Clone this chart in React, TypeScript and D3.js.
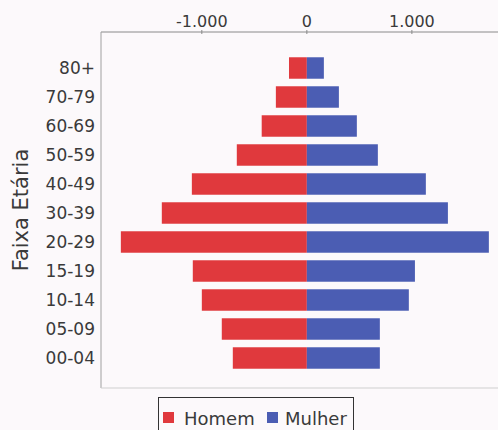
import React from "react";
import * as d3 from "d3";

const categories = ["80+", "70-79", "60-69", "50-59", "40-49", "30-39", "20-29", "15-19", "10-14", "05-09", "00-04"];
const homem = [170, 295, 430, 667, 1095, 1381, 1771, 1086, 1000, 810, 705];
const mulher = [162, 305, 476, 676, 1133, 1343, 1733, 1029, 971, 695, 695];
const xTicks = [-1000, 0, 1000];
const tickLabels = ["-1.000", "0", "1.000"];
const seriesNames = ["Homem", "Mulher"];
const seriesColors = ["#e0393d", "#4b5db3"];

const W = 498;
const H = 430;
const FONT = "'DejaVu Sans', Verdana, sans-serif";

export default function App() {
  const x = d3.scaleLinear().domain([-1960, 1820]).range([101, 498]);
  const y = d3
    .scaleBand<string>()
    .domain(categories)
    .range([53.5, 372.5])
    .paddingInner(0.26)
    .paddingOuter(0.13);
  const plotTop = 32;
  const plotBottom = 388;
  const plotLeft = 101;
  const plotRight = 498;
  const textColor = "#3a3a3a";

  return (
    <svg
      width={W}
      height={H}
      style={{ position: "absolute", left: 0, top: 0, display: "block", background: "#fcf9fb" }}
      fontFamily={FONT}
    >
      <rect x={0} y={0} width={W} height={H} fill="#fcf9fb" />
      {/* plot frame */}
      <line x1={plotLeft} x2={plotRight} y1={plotTop} y2={plotTop} stroke="#8a8a8a" strokeWidth={1} />
      <line x1={plotLeft} x2={plotLeft} y1={plotTop} y2={plotBottom} stroke="#a0a0a0" strokeWidth={1} />
      <line x1={plotLeft} x2={plotRight} y1={plotBottom} y2={plotBottom} stroke="#cfcfcf" strokeWidth={1} />
      {/* top axis ticks */}
      {xTicks.map((t, i) => (
        <g key={t}>
          <line x1={x(t)} x2={x(t)} y1={plotTop - 2} y2={plotTop + 2} stroke="#8a8a8a" />
          <text x={x(t)} y={27} textAnchor="middle" fontSize={16} fill={textColor}>
            {tickLabels[i]}
          </text>
        </g>
      ))}
      {/* bars */}
      {categories.map((c, i) => (
        <g key={c}>
          <rect
            x={x(-homem[i])}
            y={y(c)!}
            width={x(0) - x(-homem[i])}
            height={y.bandwidth()}
            fill={seriesColors[0]}
          />
          <rect
            x={x(0)}
            y={y(c)!}
            width={x(mulher[i]) - x(0)}
            height={y.bandwidth()}
            fill={seriesColors[1]}
          />
          <text
            x={95}
            y={y(c)! + y.bandwidth() / 2}
            dy="0.35em"
            textAnchor="end"
            fontSize={17}
            fill={textColor}
          >
            {c}
          </text>
        </g>
      ))}
      {/* y axis title */}
      <text
        transform={`translate(28, 210) rotate(-90)`}
        textAnchor="middle"
        fontSize={21}
        fill={textColor}
      >
        Faixa Etária
      </text>
      {/* legend */}
      <rect x={158.5} y={397.5} width={195} height={40} fill="#fcf9fb" stroke="#333" strokeWidth={1} />
      <rect x={163} y={412} width={11} height={11} fill={seriesColors[0]} />
      <text x={184} y={425} fontSize={18} fill={textColor}>
        {seriesNames[0]}
      </text>
      <rect x={267} y={412} width={11} height={11} fill={seriesColors[1]} />
      <text x={285} y={425} fontSize={18} fill={textColor}>
        {seriesNames[1]}
      </text>
    </svg>
  );
}
